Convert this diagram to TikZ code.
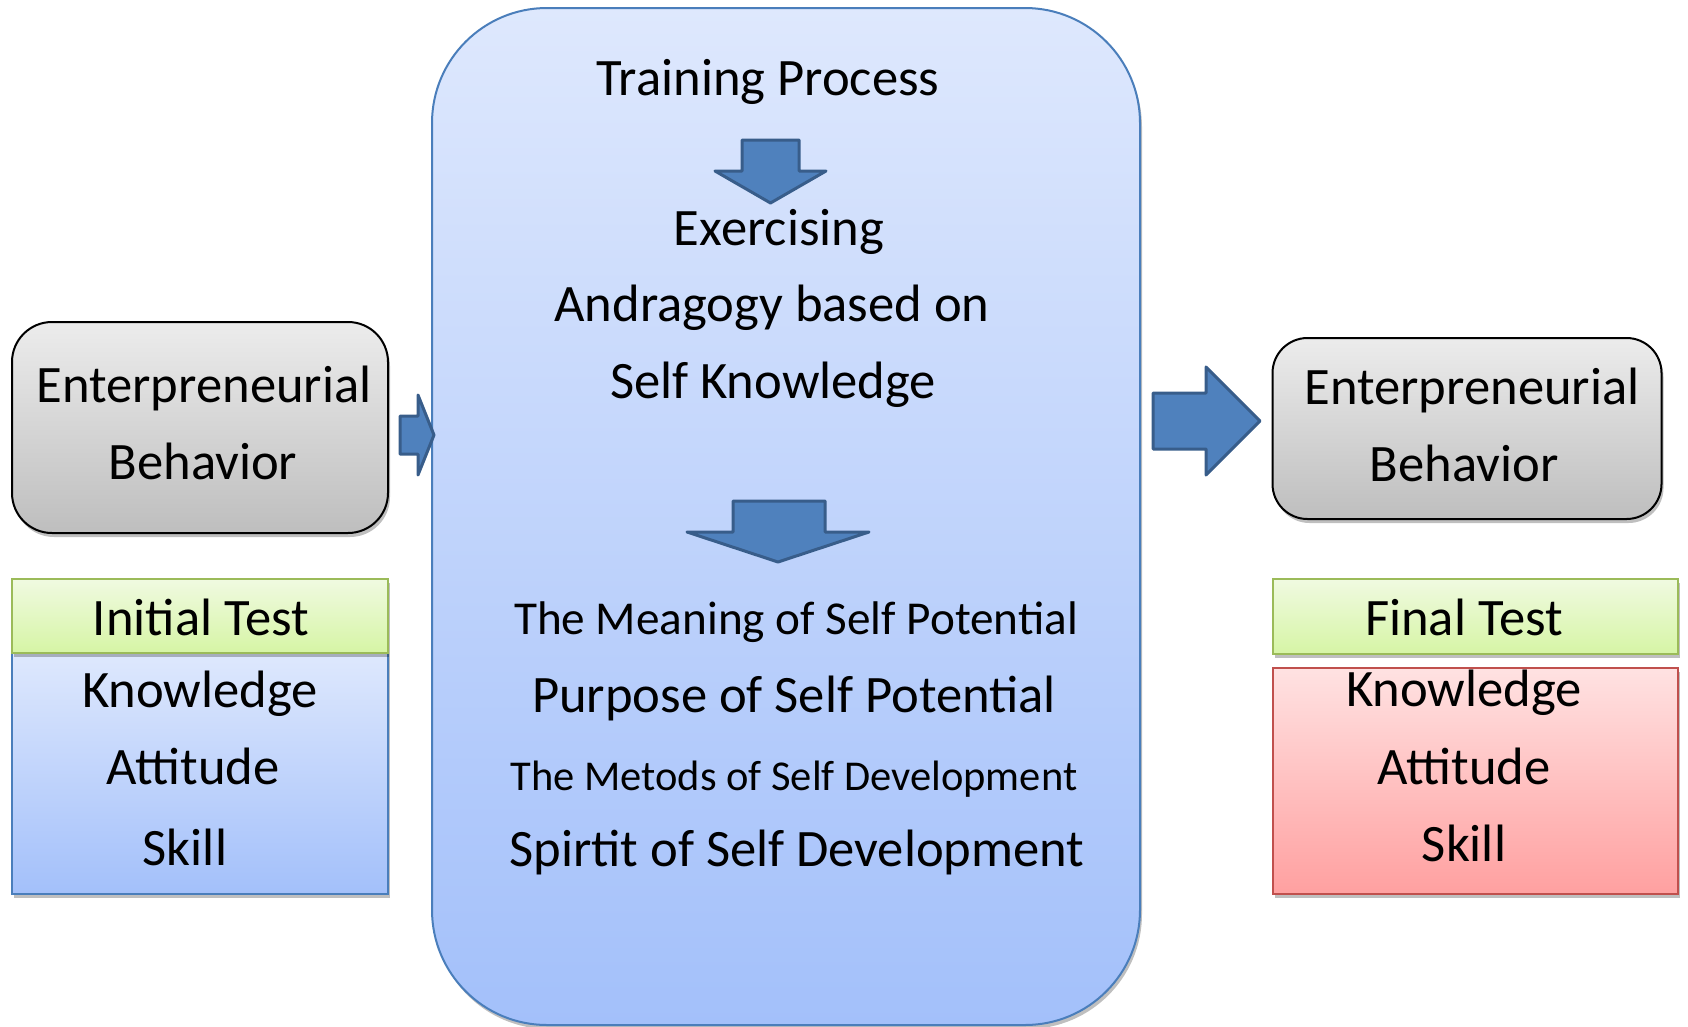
\documentclass[tikz,border=0pt]{standalone}
\usepackage{fontspec}
\setmainfont{Carlito}
\usetikzlibrary{shadows}
\definecolor{bigtop}{RGB}{222,232,253}
\definecolor{bigbot}{RGB}{163,192,250}
\definecolor{bigline}{RGB}{74,126,187}
\definecolor{graytop}{RGB}{236,236,236}
\definecolor{graybot}{RGB}{190,190,190}
\definecolor{greentop}{RGB}{240,250,225}
\definecolor{greenbot}{RGB}{214,245,165}
\definecolor{greenline}{RGB}{155,187,89}
\definecolor{redtop}{RGB}{255,226,226}
\definecolor{redbot}{RGB}{255,160,160}
\definecolor{redline}{RGB}{192,80,77}
\definecolor{arrowfill}{RGB}{79,129,189}
\definecolor{arrowline}{RGB}{56,93,138}
\tikzset{
  shad/.style={drop shadow={shadow xshift=2pt,shadow yshift=-4pt,opacity=0.25,fill=black}},
  bigbox/.style={shad,draw=bigline,line width=2pt,top color=bigtop,bottom color=bigbot,rounded corners=115pt,inner sep=0pt},
  graybox/.style={shad,draw=black,line width=2pt,top color=graytop,bottom color=graybot,inner sep=0pt},
  greenbox/.style={shad,draw=greenline,line width=2pt,top color=greentop,bottom color=greenbot,inner sep=0pt},
  bluebox/.style={shad,draw=bigline,line width=2pt,top color=bigtop,bottom color=bigbot,inner sep=0pt},
  redbox/.style={shad,draw=redline,line width=2pt,top color=redtop,bottom color=redbot,inner sep=0pt},
  blockarrow/.style={fill=arrowfill,draw=arrowline,line width=3pt,line join=round},
  txt/.style={anchor=base,inner sep=0pt,font=\fontsize{52.6}{62}\selectfont},
  txtm/.style={anchor=base,inner sep=0pt,font=\fontsize{47.2}{56}\selectfont},
  txts/.style={anchor=base,inner sep=0pt,font=\fontsize{42.5}{50}\selectfont}
}
\begin{document}
\begin{tikzpicture}[x=1pt,y=-1pt]
\useasboundingbox (0,0) rectangle (1688,1026);
% boxes
\node[bigbox,minimum width=708pt,minimum height=1017pt] (main) at (786,516.5) {};
\node[graybox,rounded corners=40pt,minimum width=376pt,minimum height=211pt] (lg) at (200,427.5) {};
\node[graybox,rounded corners=35pt,minimum width=389pt,minimum height=181pt] (rg) at (1467,428.5) {};
\node[bluebox,minimum width=376pt,minimum height=241pt] (ib) at (200,773.5) {};
\node[greenbox,minimum width=376pt,minimum height=74pt] (ig) at (200,616) {};
\node[redbox,minimum width=405pt,minimum height=226pt] (fr) at (1475,781) {};
\node[greenbox,minimum width=405pt,minimum height=75pt] (fg) at (1475,616.5) {};
% block arrows
\draw[blockarrow] (400,416) -- (418,416) -- (418,395) -- (434,435) -- (418,475) -- (418,454) -- (400,454) -- cycle;
\draw[blockarrow] (1153,393) -- (1206,393) -- (1206,367) -- (1260,421) -- (1206,475) -- (1206,449) -- (1153,449) -- cycle;
\draw[blockarrow] (742,140) -- (799,140) -- (799,171) -- (826,171) -- (770.5,203) -- (715,171) -- (742,171) -- cycle;
\draw[blockarrow] (733,501) -- (825,501) -- (825,532) -- (869,532) -- (778,562) -- (687,532) -- (733,532) -- cycle;
% left texts
\node[txt] (lg1) at (204,402) {Enterpreneurial};
\node[txt] (lg2) at (203,479) {Behavior};
\node[txt] (it) at (201,635) {Initial Test};
\node[txt] (ik) at (200,707) {Knowledge};
\node[txt] (ia) at (193,784) {Attitude};
\node[txt] (is) at (185,865) {Skill};
% right texts
\node[txt] (rg1) at (1472,404) {Enterpreneurial};
\node[txt] (rg2) at (1464,481) {Behavior};
\node[txt] (ft) at (1464,635) {Final Test};
\node[txt] (fk) at (1464,706) {Knowledge};
\node[txt] (fa) at (1464,784) {Attitude};
\node[txt] (fs) at (1464,861) {Skill};
% centre texts
\node[txt] (tp) at (768,95) {Training Process};
\node[txt] (ex) at (779,245) {Exercising};
\node[txt] (an) at (772,321) {Andragogy based on};
\node[txt] (sk) at (773,398) {Self Knowledge};
\node[txtm] (m1) at (796,634) {The Meaning of Self Potential};
\node[txt] (m2) at (794,712) {Purpose of Self Potential};
\node[txts] (m3) at (794,790) {The Metods of Self Development};
\node[txt] (m4) at (797,866) {Spirtit of Self Development};
\end{tikzpicture}
\end{document}
